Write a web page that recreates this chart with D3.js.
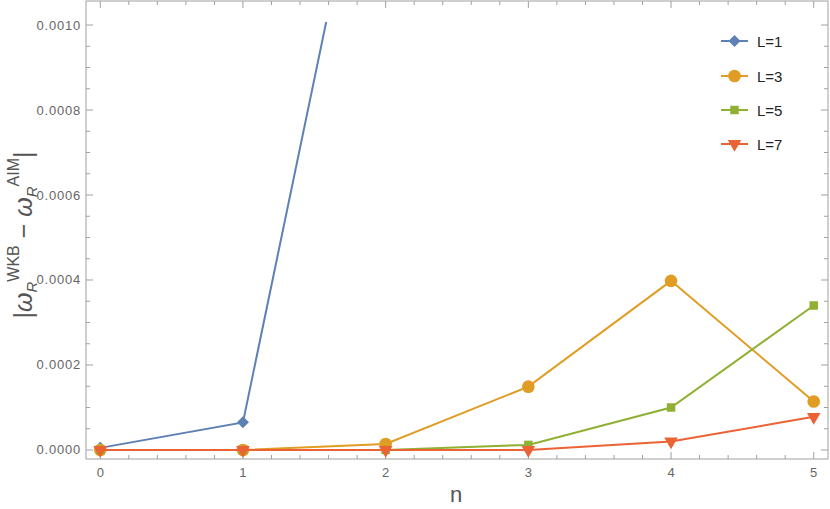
<!DOCTYPE html>
<html>
<head>
<meta charset="utf-8">
<script src="https://cdn.jsdelivr.net/npm/d3@7"></script>
<style>
  body { margin: 0; background: #fff; }
  svg { display: block; font-family: "Liberation Sans", Arial, sans-serif; }
</style>
</head>
<body>
<script>
// data
var nValues = [0, 1, 2, 3, 4, 5];
var seriesNames = ["L=1", "L=3", "L=5", "L=7"];
var valsL1 = [0.000005, 0.000065, 0.00168];
var valsL3 = [0.0, 0.0, 0.000014, 0.000149, 0.000398, 0.000114];
var valsL5 = [0.0, 0.0, 0.0, 0.000012, 0.0001, 0.00034];
var valsL7 = [0.0, 0.0, 0.0, 0.0, 0.00002, 0.000078];
var xTicks = [0, 1, 2, 3, 4, 5];
var yTicks = [0, 0.0002, 0.0004, 0.0006, 0.0008, 0.0010];

var colors = ["#5E81B5", "#E19C24", "#8FB032", "#EB6235"];
var shapes = ["diamond", "circle", "square", "triangle"];

var W = 830, H = 509;
var pLeft = 86, pRight = 828, pTop = 1, pBottom = 459;

var svg = d3.select("body").append("svg")
    .attr("width", W)
    .attr("height", H);

var x = d3.scaleLinear().domain([-0.1, 5.1]).range([pLeft, pRight]);
var y = d3.scaleLinear().domain([-0.0000212, 0.0010565]).range([pBottom, pTop]);

svg.append("defs").append("clipPath")
    .attr("id", "plotClip")
    .append("rect")
    .attr("x", pLeft)
    .attr("y", y(0.001007))
    .attr("width", pRight - pLeft)
    .attr("height", pBottom - y(0.001007));

// frame
var frameColor = "#a0a0a0";
svg.append("rect")
    .attr("x", pLeft).attr("y", pTop)
    .attr("width", pRight - pLeft).attr("height", pBottom - pTop)
    .attr("fill", "none").attr("stroke", frameColor).attr("stroke-width", 1);

// ticks (inward on all sides)
var xMinor = d3.range(0, 5.01, 0.2).filter(function(v) { return Math.abs(v - Math.round(v)) > 0.01; });
var yMinor = d3.range(0, 0.00105, 0.00005).filter(function(v) { return Math.abs(v / 0.0002 - Math.round(v / 0.0002)) > 0.01; });

var tickG = svg.append("g").attr("stroke", frameColor).attr("stroke-width", 1);
function xTick(v, len) {
    tickG.append("line").attr("x1", x(v)).attr("x2", x(v)).attr("y1", pBottom).attr("y2", pBottom - len);
    tickG.append("line").attr("x1", x(v)).attr("x2", x(v)).attr("y1", pTop).attr("y2", pTop + len);
}
function yTick(v, len) {
    tickG.append("line").attr("y1", y(v)).attr("y2", y(v)).attr("x1", pLeft).attr("x2", pLeft + len);
    tickG.append("line").attr("y1", y(v)).attr("y2", y(v)).attr("x1", pRight).attr("x2", pRight - len);
}
xTicks.forEach(function(v) { xTick(v, 7); });
xMinor.forEach(function(v) { xTick(v, 4); });
yTicks.forEach(function(v) { yTick(v, 7); });
yMinor.forEach(function(v) { yTick(v, 4); });

// tick labels
svg.append("g").selectAll("text")
    .data(xTicks).enter().append("text")
    .attr("x", function(d) { return x(d); })
    .attr("y", pBottom + 18)
    .attr("text-anchor", "middle")
    .attr("font-size", 13)
    .attr("fill", "#666")
    .text(function(d) { return d; });

svg.append("g").selectAll("text")
    .data(yTicks).enter().append("text")
    .attr("x", pLeft - 5)
    .attr("y", function(d) { return y(d) + 4.5; })
    .attr("text-anchor", "end")
    .attr("font-size", 13)
    .attr("letter-spacing", 0.8)
    .attr("fill", "#666")
    .text(function(d) { return d3.format(".4f")(d); });

// axis labels
svg.append("text")
    .attr("x", 456).attr("y", 502)
    .attr("text-anchor", "middle")
    .attr("font-size", 22)
    .attr("fill", "#555")
    .text("n");

var yl = svg.append("text")
    .attr("transform", "translate(32,235) rotate(-90)")
    .attr("text-anchor", "middle")
    .attr("font-size", 25)
    .attr("fill", "#555");
yl.append("tspan").text("|");
yl.append("tspan").attr("font-style", "italic").text("ω");
yl.append("tspan").attr("font-style", "italic").attr("font-size", 15).attr("dy", 5).text("R");
yl.append("tspan").attr("font-size", 16).attr("dy", -18).text("WKB");
yl.append("tspan").attr("dy", 13).text(" − ");
yl.append("tspan").attr("font-style", "italic").text("ω");
yl.append("tspan").attr("font-style", "italic").attr("font-size", 15).attr("dy", 5).text("R");
yl.append("tspan").attr("font-size", 16).attr("dy", -18).text("AIM");
yl.append("tspan").attr("dy", 13).text("|");

// series
var allSeries = [valsL1, valsL3, valsL5, valsL7];
var line = d3.line()
    .x(function(d, i) { return x(nValues[i]); })
    .y(function(d) { return y(d); });

function markerPath(shape) {
    if (shape === "diamond") return d3.symbol().type(d3.symbolSquare).size(72)();
    if (shape === "circle") return d3.symbol().type(d3.symbolCircle).size(125)();
    if (shape === "square") return d3.symbol().type(d3.symbolSquare).size(72)();
    return d3.symbol().type(d3.symbolTriangle).size(80)();
}
function markerRot(shape) {
    if (shape === "diamond") return " rotate(45)";
    if (shape === "triangle") return " rotate(180)";
    return "";
}

allSeries.forEach(function(vals, k) {
    var g = svg.append("g");
    g.append("path")
        .attr("d", line(vals))
        .attr("fill", "none")
        .attr("stroke", colors[k])
        .attr("stroke-width", 2)
        .attr("clip-path", "url(#plotClip)");
    g.selectAll("path.m")
        .data(vals.filter(function(v) { return v <= 0.001007; }))
        .enter().append("path")
        .attr("class", "m")
        .attr("d", markerPath(shapes[k]))
        .attr("transform", function(d, i) {
            return "translate(" + x(nValues[i]) + "," + y(d) + ")" + markerRot(shapes[k]);
        })
        .attr("fill", colors[k]);
});

// legend
var legendY = [41, 76, 110, 144];
seriesNames.forEach(function(name, k) {
    var g = svg.append("g").attr("transform", "translate(0," + legendY[k] + ")");
    g.append("line")
        .attr("x1", 721).attr("x2", 748)
        .attr("stroke", colors[k]).attr("stroke-width", 2);
    g.append("path")
        .attr("d", markerPath(shapes[k]))
        .attr("transform", "translate(734.5,0)" + markerRot(shapes[k]))
        .attr("fill", colors[k]);
    g.append("text")
        .attr("x", 757).attr("y", 5.5)
        .attr("font-size", 15)
        .attr("fill", "#222")
        .text(name);
});
</script>
</body>
</html>
